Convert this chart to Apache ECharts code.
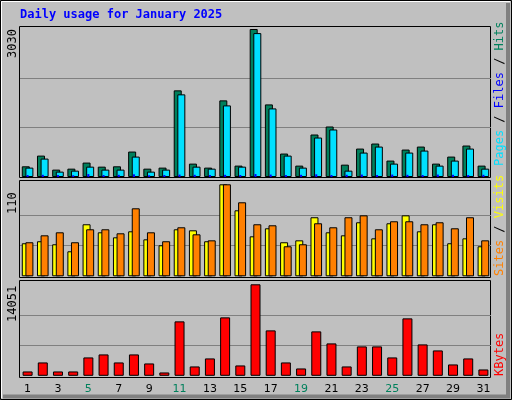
<!DOCTYPE html>
<html><head><meta charset="utf-8">
<script src="https://cdn.jsdelivr.net/npm/echarts@6/dist/echarts.min.js"></script>
<style>html,body{margin:0;padding:0;background:#c0c0c0}#c{width:512px;height:400px}</style>
</head><body><div id="c"></div>
<script>
const days = ['1','2','3','4','5','6','7','8','9','10','11','12','13','14','15','16','17','18','19','20','21','22','23','24','25','26','27','28','29','30','31'];
const weekend = ['4','5','11','12','18','19','25','26'];
const hits = [219,438,151,171,295,212,219,521,171,192,1774,274,192,1569,233,3030,1486,480,233,870,1034,253,582,685,336,562,623,274,418,644,233];
const files = [192,377,110,130,212,151,151,418,110,151,1692,212,171,1466,212,2946,1404,438,192,808,973,130,500,623,274,500,541,233,336,582,171];
const pages = [40,45,40,35,60,40,45,55,35,40,50,45,40,45,40,60,50,40,45,55,40,45,50,40,50,45,40,50,45,40,45];
const visits = [39.5,41.9,38.3,29.9,62.2,52.6,46.6,53.8,44.2,37.1,56.2,55,41.9,110,78.9,47.8,57.4,40.7,43,70.6,52.6,49,64.6,45.4,63.4,72.9,53.8,62.2,39.5,45.4,35.9];
const sites = [40.7,49,52.6,40.7,56.2,56.2,51.4,81.3,52.6,41.9,58.6,50.2,43,110,88.5,62.2,61,35.9,38.3,63.4,58.6,70.6,72.9,56.2,65.8,65.8,62.2,64.6,57.4,70.6,43];
const kbytes = [667,2051,667,667,2820,3282,2051,3282,1897,513,8359,1436,2667,8974,1590,14051,6974,2051,1128,6820,4974,1436,4513,4513,2820,8820,4820,3897,1744,2667,974];
const maxHits = 3030, maxSites = 110, maxKB = 14051;

const ch = echarts.init(document.getElementById('c'));
const B = {borderColor:'#000',borderWidth:1};
const grids = [
  {left:20,right:21,top:29,height:148},
  {left:20,right:21,top:184.3,height:92},
  {left:20,right:21,top:284.3,height:91.5}
];
const split = {show:true,lineStyle:{color:['transparent','#808080','#808080','transparent'],width:1}};
function xa(g,show){return {type:'category',gridIndex:g,data:days,boundaryGap:true,axisLine:{show:false},axisTick:{show:false},
  axisLabel:{show:show,fontFamily:'DejaVu Sans',fontSize:11,margin:8,color:function(v){return weekend.includes(v)?'#00805c':'#000';}}};}
function ya(g,max){return {type:'value',gridIndex:g,min:0,max:max,interval:max/3,axisLine:{show:false},axisTick:{show:false},axisLabel:{show:false},splitLine:split};}
const mono='DejaVu Sans Mono';
function rtext(x,y,rich,text){return {type:'text',x:x,y:y,rotation:Math.PI/2,style:{text:text,rich:rich,font:'12px '+mono,textAlign:'left',textVerticalAlign:'middle'}};}
ch.setOption({
  animation:false,
  backgroundColor:'#c0c0c0',
  grid:grids,
  xAxis:[xa(0,false),xa(0,false),xa(1,false),xa(2,true)],
  yAxis:[ya(0,maxHits),ya(0,maxHits),ya(1,maxSites),ya(2,maxKB)],
  series:[
    {type:'bar',xAxisIndex:0,yAxisIndex:0,data:hits,barWidth:8,barGap:'-55%',itemStyle:Object.assign({color:'#00805c'},B)},
    {type:'bar',xAxisIndex:0,yAxisIndex:0,data:files,barWidth:8,barGap:'-55%',itemStyle:Object.assign({color:'#00e0ff'},B)},
    {type:'bar',xAxisIndex:1,yAxisIndex:1,data:pages,barWidth:2,itemStyle:{color:'#0000ff'},z:5},
    {type:'bar',xAxisIndex:2,yAxisIndex:2,data:visits,barWidth:8,barGap:'-55%',itemStyle:Object.assign({color:'#ffff00'},B)},
    {type:'bar',xAxisIndex:2,yAxisIndex:2,data:sites,barWidth:8,barGap:'-55%',itemStyle:Object.assign({color:'#ff8000'},B)},
    {type:'bar',xAxisIndex:3,yAxisIndex:3,data:kbytes,barWidth:10,itemStyle:Object.assign({color:'#ff0000'},B)}
  ],
  graphic:[
    {type:'rect',shape:{x:0.5,y:0.5,width:511,height:399},style:{fill:'none',stroke:'#000'},z:-10},
    {type:'polyline',shape:{points:[[1.5,398],[1.5,1.5],[510,1.5]]},style:{stroke:'#fff',fill:'none',lineWidth:1},z:-10},
    {type:'polyline',shape:{points:[[508,3],[508,396.5],[3,396.5]]},style:{stroke:'#808080',fill:'none',lineWidth:4},z:-10},
    {type:'rect',shape:{x:19.5,y:26.5,width:471,height:151},style:{fill:'none',stroke:'#000',lineWidth:1},z:-5},
    {type:'rect',shape:{x:19.5,y:180.5,width:471,height:97},style:{fill:'none',stroke:'#000',lineWidth:1},z:-5},
    {type:'rect',shape:{x:19.5,y:280.5,width:471,height:97},style:{fill:'none',stroke:'#000',lineWidth:1},z:-5},
    {type:'text',x:20,y:9,style:{text:'Daily usage for January 2025',font:'bold 12px '+mono,fill:'#0000ff'}},
    rtext(13,58,{},'3030'),
    rtext(13,214,{},'110'),
    rtext(13,322,{},'14051'),
    rtext(500,166,{p:{fill:'#00e0ff',font:'12px '+mono},s:{fill:'#000',font:'12px '+mono},f:{fill:'#0000ff',font:'12px '+mono},h:{fill:'#00805c',font:'12px '+mono}},'{p|Pages}{s| / }{f|Files}{s| / }{h|Hits}'),
    rtext(500,276,{a:{fill:'#ff8000',font:'12px '+mono},s:{fill:'#000',font:'12px '+mono},v:{fill:'#ffff00',font:'12px '+mono}},'{a|Sites}{s| / }{v|Visits}'),
    rtext(500,376,{k:{fill:'#ff0000',font:'12px '+mono}},'{k|KBytes}')
  ]
});
</script></body></html>
